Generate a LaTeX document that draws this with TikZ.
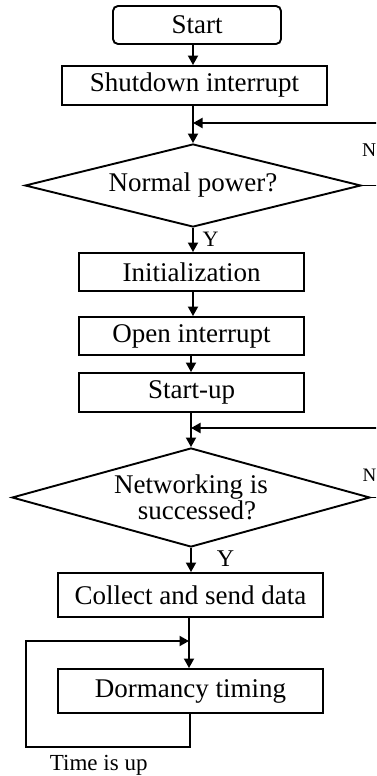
\documentclass[tikz,border=0pt]{standalone}
\usepackage{fontspec}
\setmainfont{Liberation Serif}
\usetikzlibrary{shapes.geometric,arrows.meta}
\begin{document}
\begin{tikzpicture}[x=1pt,y=-1pt, line width=1.9pt,
  box/.style={draw, rectangle, inner sep=0pt, font=\fontsize{27}{24}\selectfont},
  dec/.style={draw, diamond, inner sep=0pt, aspect=4, align=center, font=\fontsize{27}{24}\selectfont},
  arr/.style={-{Triangle[length=9.5pt,width=10pt]}},
  lab/.style={inner sep=0pt, anchor=base west}]
\useasboundingbox (0,0) rectangle (376,776);
\clip (0,0) rectangle (376,776);
\coordinate (ax1) at (193,0);
\coordinate (ax2) at (191,0);
\coordinate (ax3) at (190,0);
\node[box, rounded corners=5pt, minimum width=168pt, minimum height=38pt] (start) at (197,25) {Start};
\node[box, minimum width=265pt, minimum height=39pt] (shut) at (194.5,85.5) {Shutdown interrupt};
\node[dec, minimum width=336pt, minimum height=83pt] (d1) at (193,185.5) {Normal power?};
\node[box, minimum width=225pt, minimum height=38pt] (init) at (191.5,272) {Initialization};
\node[box, minimum width=225pt, minimum height=38pt] (open) at (191.5,336) {Open interrupt};
\node[box, minimum width=225pt, minimum height=39pt] (up) at (191.5,392.5) {Start-up};
\node[dec, minimum width=358pt, minimum height=99pt] (d2) at (191,497.5) {Networking is\\\hspace*{12pt}successed?};
\node[box, minimum width=265pt, minimum height=44pt] (coll) at (190.5,595) {Collect and send data};
\node[box, minimum width=265pt, minimum height=44pt] (dorm) at (190.5,691) {Dormancy timing};
\coordinate (fb1) at (400,123);
\coordinate (fb2) at (400,428);
\coordinate (loopc) at (26,747);
\coordinate (jn) at (189,641);
% connectors
\draw[arr] (start.south -| ax1) -- (shut.north -| ax1);
\draw[arr] (shut.south -| ax1) -- (d1.north);
\draw[arr] (d1.east) -- ++(30,0) |- (ax1 |- fb1);
\draw[arr] (d1.south) -- (init.north -| d1.south);
\draw[arr] (init.south -| ax1) -- (open.north -| ax1);
\draw[arr] (open.south -| ax2) -- (up.north -| ax2);
\draw[arr] (up.south -| ax2) -- (d2.north -| ax2);
\draw[arr] (d2.east) -- ++(30,0) |- (ax2 |- fb2);
\draw[arr] (d2.south -| ax2) -- (coll.north -| ax2);
\draw[arr] (coll.south -| jn) -- (dorm.north -| jn);
\draw[arr] (dorm.south -| ax3) |- (loopc) |- (jn);
% labels
\node[lab, font=\fontsize{22}{22}\selectfont] (y1) at (201.7,246.7) {Y};
\node[lab, font=\fontsize{24}{24}\selectfont] (y2) at (216,566.7) {Y};
\node[lab, font=\fontsize{19.5}{19.5}\selectfont] (n1) at (361.2,156.7) {N};
\node[lab, font=\fontsize{19}{19}\selectfont] (n2) at (361.7,481.7) {N};
\node[lab, font=\fontsize{23}{23}\selectfont] (tiu) at (49,770) {Time is up};
\end{tikzpicture}
\end{document}
